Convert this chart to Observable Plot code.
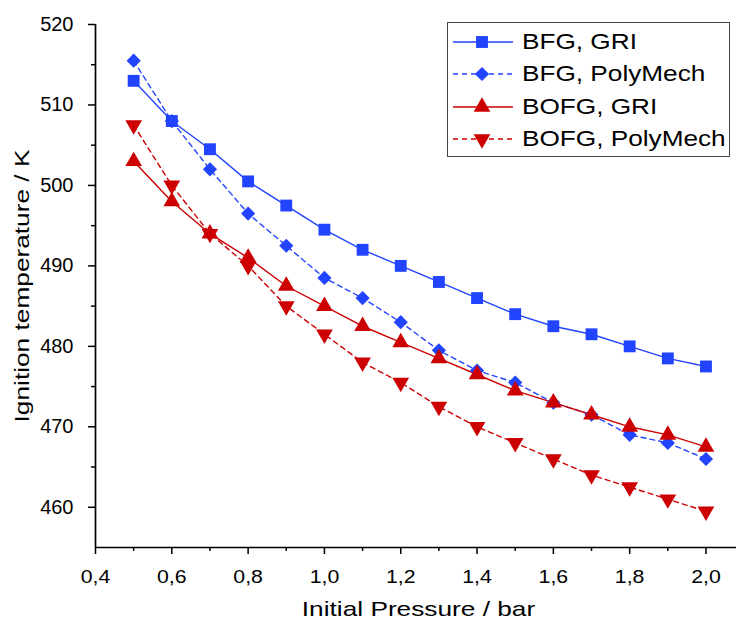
<!DOCTYPE html>
<html><head><meta charset="utf-8">
<script src="https://cdn.jsdelivr.net/npm/d3@7"></script>
<script src="https://cdn.jsdelivr.net/npm/@observablehq/plot@0.6"></script>
<style>
body{margin:0;background:#fff;font-family:"Liberation Sans",Arial,sans-serif}
#wrap{position:relative;width:738px;height:624px}
#legend{position:absolute;left:447px;top:22px;width:283px;height:135px;border:1px solid #444;background:#fff;box-sizing:border-box}
.item{position:absolute;left:4px;height:30px;display:flex;align-items:center;font-size:22px;color:#000;white-space:nowrap}
.item svg{margin-right:8px;flex:none}
.item span{display:inline-block;transform:scaleX(1.19);transform-origin:left center}
</style></head>
<body><div id="wrap"><div id="chart"></div><div id="legend"></div></div>
<script>
const pressure = [0.5,0.6,0.7,0.8,0.9,1.0,1.1,1.2,1.3,1.4,1.5,1.6,1.7,1.8,1.9,2.0];
const bfgGRI      = [513,508,504.5,500.5,497.5,494.5,492,490,488,486,484,482.5,481.5,480,478.5,477.5];
const bfgPoly     = [515.5,508,502,496.5,492.5,488.5,486,483,479.5,477,475.5,473,471.5,469,468,466];
const bofgGRI     = [503,498,494,491,487.5,485,482.5,480.5,478.5,476.5,474.5,473,471.5,470,469,467.5];
const bofgPoly    = [507.5,500,494,490,485,481.5,478,475.5,472.5,470,468,466,464,462.5,461,459.5];
const seriesNames = ["BFG, GRI","BFG, PolyMech","BOFG, GRI","BOFG, PolyMech"];
const seriesValues = [bfgGRI,bfgPoly,bofgGRI,bofgPoly];
const xTicks = [0.4,0.6,0.8,1.0,1.2,1.4,1.6,1.8,2.0];
const xMinor = [0.5,0.7,0.9,1.1,1.3,1.5,1.7,1.9];
const yTicks = [460,470,480,490,500,510,520];
const yMinor = [465,475,485,495,505,515];
const xTitle = "Initial Pressure / bar";
const yTitle = "Ignition temperature / K";

const styles = [
  {color:"#2244ff", dash:null, symbol:"square", r:6.7, rotate:0},
  {color:"#2244ff", dash:"5,4", symbol:"diamond2", r:6.4, rotate:0},
  {color:"#cc0000", dash:null, symbol:"triangle", r:6.2, rotate:0},
  {color:"#cc0000", dash:"5,4", symbol:"triangle", r:6.2, rotate:180}
];

const marks = [];
seriesNames.forEach((name,i)=>{
  const rows = pressure.map((p,j)=>({x:p,y:seriesValues[i][j]}));
  const s = styles[i];
  marks.push(Plot.line(rows,{x:"x",y:"y",stroke:s.color,strokeWidth:1.4,strokeDasharray:s.dash}));
});
seriesNames.forEach((name,i)=>{
  const rows = pressure.map((p,j)=>({x:p,y:seriesValues[i][j]}));
  const s = styles[i];
  marks.push(Plot.dot(rows,{x:"x",y:"y",symbol:()=>s.symbol,fill:s.color,stroke:"none",r:s.r,rotate:s.rotate}));
});

const fmt = d=>d.toFixed(1).replace(".",",");
const chart = Plot.plot({
  width:738,height:624,
  marginLeft:95,marginTop:24,marginBottom:77,marginRight:2,
  style:{fontFamily:"Liberation Sans, Arial, sans-serif",fontSize:"19px",color:"#000",background:"#fff"},
  x:{domain:[0.4,2.08]},
  y:{domain:[455,520]},
  symbol:{type:"identity"},
  marks:[
    Plot.axisX({ticks:xTicks,tickFormat:fmt,tickSize:7,tickPadding:15,label:null,strokeWidth:1.5,fontSize:19}),
    Plot.axisX({ticks:xMinor,tickSize:4,text:null,label:null,strokeWidth:1.5}),
    Plot.axisY({ticks:yTicks,tickSize:7,tickPadding:15,label:null,strokeWidth:1.5,fontSize:20}),
    Plot.axisY({ticks:yMinor,tickSize:4,text:null,label:null,strokeWidth:1.5}),
    Plot.ruleX([0.4],{strokeWidth:1.7}),
    Plot.ruleY([455],{strokeWidth:1.7}),
    ...marks,
    Plot.text([yTitle],{frameAnchor:"left",textAnchor:"middle",dx:-73,rotate:-90,fontSize:21}),
    Plot.text([xTitle],{frameAnchor:"bottom",textAnchor:"middle",dx:2.5,dy:68,fontSize:21})
  ]
});
document.getElementById("chart").appendChild(chart);

function stretchTexts(texts, s){
  texts.forEach(t=>{
    const L = t.getComputedTextLength();
    t.setAttribute("textLength", (L*s).toFixed(1));
    t.setAttribute("lengthAdjust", "spacingAndGlyphs");
  });
}
const allTexts = Array.from(chart.querySelectorAll("text"));
stretchTexts(Array.from(chart.querySelectorAll('g[aria-label="x-axis tick label"] text')), 1.12);
stretchTexts(allTexts.filter(t=>t.textContent===xTitle || t.textContent===yTitle), 1.25);

const legend = document.getElementById("legend");
const legendRowY = [18.5, 51, 83.5, 116];
seriesNames.forEach((name,i)=>{
  const s = styles[i];
  const div = document.createElement("div");
  div.className="item";
  div.style.top = (legendRowY[i]-15)+"px";
  const sym = d3.symbol(i===0?d3.symbolSquare:i===1?d3.symbolDiamond2:d3.symbolTriangle, Math.PI*s.r*s.r)();
  div.innerHTML = `<svg width="62" height="30"><line x1="1" x2="61" y1="15" y2="15" stroke="${s.color}" stroke-width="1.4" ${s.dash?`stroke-dasharray="${s.dash}"`:""}/><path d="${sym}" fill="${s.color}" transform="translate(30,15) rotate(${s.rotate})"/></svg><span>${name}</span>`;
  legend.appendChild(div);
});
</script></body></html>
